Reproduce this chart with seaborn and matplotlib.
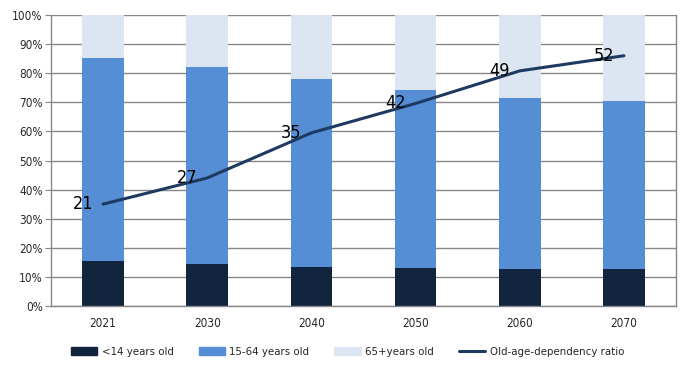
import numpy as np
import pandas as pd
import seaborn as sns
import matplotlib.pyplot as plt
from matplotlib.patches import Patch
from matplotlib.lines import Line2D

# data (shares in %)
years = ['2021', '2030', '2040', '2050', '2060', '2070']
young = [15.5, 14.4, 13.4, 13.1, 12.7, 12.7]
working = [69.7, 67.7, 64.6, 61.1, 58.8, 57.7]
old = [14.8, 17.9, 22.0, 25.8, 28.5, 29.6]
# dependency ratio line: position on the chart and printed labels
ratio_pos = [35.0, 44.0, 59.5, 69.6, 80.8, 86.0]
ratio_labels = ['21', '27', '35', '42', '49', '52']

c_young = '#12253f'
c_work = '#558ed5'
c_old = '#dce6f2'
c_line = '#1f3a60'

sns.set_style('white')
plt.rcParams['font.family'] = ['DejaVu Sans']
plt.rcParams['font.stretch'] = 'condensed'

df = pd.DataFrame({'year': years, 'young': young, 'working': working, 'old': old})
df['base2'] = df['young'] + df['working']

fig = plt.figure(figsize=(6.91, 3.72), dpi=100)
ax = fig.add_axes([51 / 691, 1 - 306 / 372, 625 / 691, 291 / 372])

sns.barplot(data=df, x='year', y='young', color=c_young, width=0.4,
            saturation=1, linewidth=0, ax=ax, zorder=2)
sns.barplot(data=df, x='year', y='working', bottom=df['young'], color=c_work,
            width=0.4, saturation=1, linewidth=0, ax=ax, zorder=2)
sns.barplot(data=df, x='year', y='old', bottom=df['base2'], color=c_old,
            width=0.4, saturation=1, linewidth=0, ax=ax, zorder=2)

xpos = np.arange(len(years))
sns.lineplot(x=xpos, y=ratio_pos, color=c_line, linewidth=2.2, ax=ax, zorder=3)
for x, y, lab in zip(xpos, ratio_pos, ratio_labels):
    ax.text(x - 0.195, y, lab, ha='center', va='center', fontsize=13,
            color='black', zorder=4)

ax.set_xlim(-0.5, 5.5)
ax.set_ylim(0, 100)
ax.set_yticks(np.arange(0, 101, 10))
ax.set_yticklabels([f'{v}%' for v in range(0, 101, 10)])
ax.set_xlabel('')
ax.set_ylabel('')
ax.yaxis.grid(True, color='#878787', linewidth=1, zorder=0)
ax.set_axisbelow(True)

# category boundary ticks on x axis
ax.set_xticks(xpos)
ax.set_xticklabels(years)
ax.set_xticks(np.arange(-0.5, 6, 1), minor=True)
ax.tick_params(axis='x', which='major', length=0, pad=8, labelsize=8.5)
ax.tick_params(axis='x', which='minor', length=5, color='#878787', direction='out')
ax.tick_params(axis='y', length=4, color='#878787', labelsize=8.5, pad=2, left=True)

for side in ['left', 'bottom', 'right']:
    ax.spines[side].set_color('#878787')
    ax.spines[side].set_linewidth(1)
ax.spines['top'].set_visible(False)

handles = [Patch(color=c_young), Patch(color=c_work), Patch(color=c_old),
           Line2D([0], [0], color=c_line, linewidth=2.2)]
labels = ['<14 years old', '15-64 years old', '65+years old', 'Old-age-dependency ratio']
fig.legend(handles, labels, loc='center left', bbox_to_anchor=(71 / 691, 1 - 352 / 372),
           ncol=4, frameon=False, fontsize=8.2, handlelength=2.3, handleheight=0.65,
           handletextpad=0.4, columnspacing=2.2, borderpad=0, borderaxespad=0)

fig.savefig('out.png', dpi=100)
